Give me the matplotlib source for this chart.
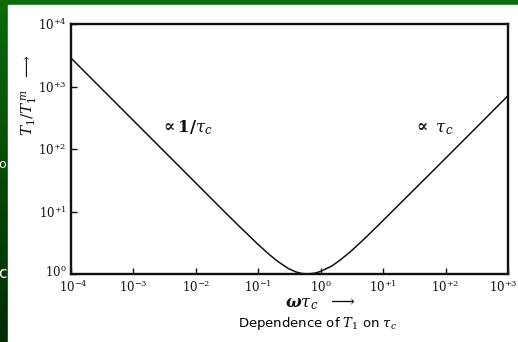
import numpy as np
import matplotlib
matplotlib.use("Agg")
import matplotlib.pyplot as plt
from matplotlib.patches import Rectangle
from matplotlib.transforms import ScaledTranslation

# T1 relative to its minimum, against omega*tau_c
omega_tau = [1e-4, 1e-3, 1e-2, 0.03, 0.05, 0.1, 0.15, 0.2, 0.3, 0.4, 0.5,
             0.62, 0.8, 1.0, 1.5, 2.0, 3.0, 5.0, 10.0, 100.0, 1000.0]
t1_ratio = [2850, 285, 28.5, 9.5, 5.75, 2.95, 2.05, 1.62, 1.23, 1.08, 1.02,
            1.0, 1.03, 1.1, 1.34, 1.64, 2.28, 3.65, 7.2, 71, 712]

x_ticks = [1e-4, 1e-3, 1e-2, 1e-1, 1e0, 1e1, 1e2, 1e3]
x_labels = [r"$10^{-4}$", r"$10^{-3}$", r"$10^{-2}$", r"$10^{-1}$",
            r"$10^{0}$", r"$10^{+1}$", r"$10^{+2}$", r"$10^{+3}$"]
y_ticks = [1e0, 1e1, 1e2, 1e3, 1e4]
y_labels = [r"$10^{0}$", r"$10^{+1}$", r"$10^{+2}$", r"$10^{+3}$", r"$10^{+4}$"]

plt.rcParams["mathtext.fontset"] = "dejavuserif"

fig = plt.figure(figsize=(5.18, 3.42), dpi=100)

# slide background: green gradient with a white panel on top
bg = fig.add_axes([0, 0, 1, 1])
grad = np.linspace(0, 1, 256).reshape(-1, 1)
top = np.array([0.05, 0.42, 0.05])
bottom = np.array([0.0, 0.17, 0.0])
img = top + (bottom - top) * grad[:, :, None]
bg.imshow(img, aspect="auto", extent=[0, 1, 0, 1])
bg.add_patch(Rectangle((8 / 518, 0), 1, 1 - 5 / 342, color="white", zorder=2))
bg.text(-0.004, 1 - 165 / 342, "o", color="white", fontsize=9,
        ha="left", va="center", zorder=1)
bg.text(-0.004, 1 - 274 / 342, "c", color="white", fontsize=11,
        ha="left", va="center", zorder=1)
bg.set_xlim(0, 1)
bg.set_ylim(0, 1)
bg.axis("off")

ax = fig.add_axes([71 / 518, 1 - 274 / 342, 437 / 518, 250 / 342])
ax.plot(omega_tau, t1_ratio, color="#111111", lw=1.1)
ax.set_xscale("log")
ax.set_yscale("log")
ax.set_xlim(1e-4, 1e3)
ax.set_ylim(1e0, 1e4)

ax.set_xticks(x_ticks)
ax.set_xticklabels(x_labels)
ax.set_yticks(y_ticks)
ax.set_yticklabels(y_labels)
ax.minorticks_off()
ax.tick_params(direction="in", length=4, width=1, colors="#111111",
               labelsize=8.5, pad=3)
ax.tick_params(axis="x", pad=4)
for s in ax.spines.values():
    s.set_linewidth(1.7)
    s.set_color("#111111")


def nudge(label, dx, dy):
    label.set_transform(label.get_transform()
                        + ScaledTranslation(dx / 100, dy / 100, fig.dpi_scale_trans))


# keep the corner labels apart and the last x label inside the panel
nudge(ax.get_xticklabels()[-1], -5, 0)
nudge(ax.get_xticklabels()[0], 2, 0)
nudge(ax.get_yticklabels()[0], 0, 3)

ax.text(2.7e-3, 218, r"$\boldsymbol{\propto 1/\tau_c}$", fontsize=12,
        ha="left", va="center", color="#111111")
ax.text(30, 218, r"$\boldsymbol{\propto\ \tau_c}$", fontsize=12,
        ha="left", va="center", color="#111111")

# axis titles with arrows
fig.text(30 / 518, 1 - 95 / 342, r"$T_1/T_1^{\,m}$  $\longrightarrow$",
         rotation=90, fontsize=11, ha="center", va="center", color="#111111")
fig.text(285 / 518, 1 - 303 / 342, r"$\boldsymbol{\omega\tau_c}$  $\longrightarrow$",
         fontsize=12, ha="left", va="center", color="#111111")

fig.text(318 / 518, 1 - 324 / 342, r"Dependence of $T_1$ on $\tau_c$",
         fontsize=9.5, ha="center", va="center", color="black")

fig.savefig("out.png", dpi=100)
